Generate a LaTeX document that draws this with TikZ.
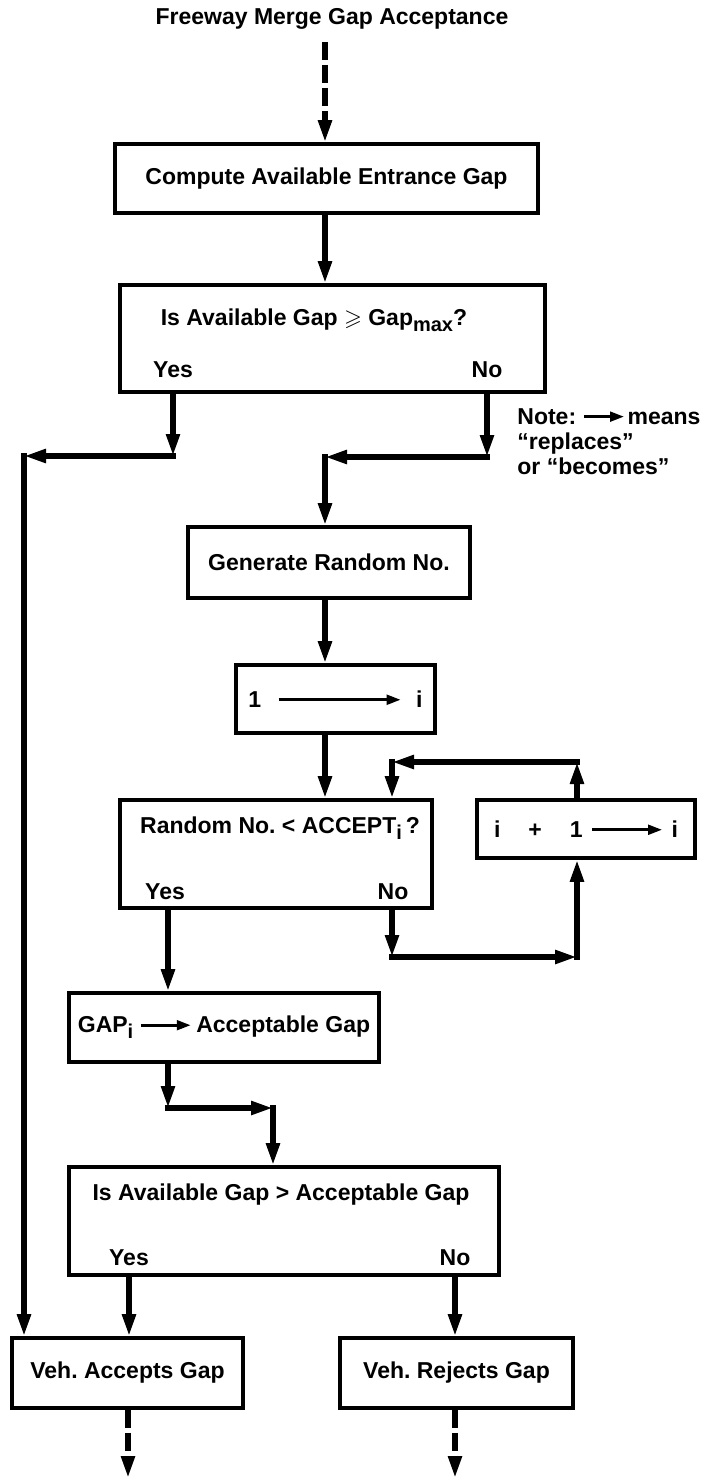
\documentclass[tikz,border=0pt]{standalone}
\usepackage{fontspec}
\setmainfont{Liberation Sans}
\usepackage{amssymb}
\usetikzlibrary{arrows.meta}

% small arrow used inside texts ("replaces" / "becomes")
\newcommand{\becomes}[1]{\tikz[baseline=-0.33em]\draw[line width=1.5pt,-{Triangle[length=7pt,width=4.8pt]}] (0pt,0pt) -- (#1,0pt);}
\newcommand{\lowsub}[1]{\raisebox{-0.5ex}{\fontsize{10}{10}\selectfont #1}}

\begin{document}
\frenchspacing
\begin{tikzpicture}[x=0.5pt,y=-0.5pt,
  font=\bfseries\fontsize{11.5}{13.5}\selectfont,
  box/.style={draw, line width=1.8pt, inner sep=0pt},
  lbl/.style={inner sep=0pt},
  conn/.style={line width=2.6pt, line cap=rect, -{Triangle[length=11pt,width=6.5pt]}},
  dashconn/.style={conn, line cap=butt, dash pattern=on 9pt off 2.5pt}]
  \useasboundingbox (0,0) rectangle (717,1478);
  % Title and first step
  \node[lbl] (title) at (332,19) {Freeway Merge Gap Acceptance};
  \node[box, minimum width=211.5pt, minimum height=34.5pt] (compute) at (326.5,178.5) {Compute Available Entrance Gap};
  % Gap max test
  \node[box, minimum width=212.5pt, minimum height=53.5pt] (chkmax) at (332.5,338.5) {};
  \node[lbl] (chkmaxq) at (314,320) {Is Available Gap \(\geqslant\) Gap\lowsub{max}?};
  \node[lbl] (chkmaxyes) at (173,370) {Yes};
  \node[lbl] (chkmaxno) at (487,370) {No};
  % Note
  \node[lbl, anchor=north west, align=left, font=\bfseries\fontsize{11.5}{12.5}\selectfont] (note) at (517,408)
    {Note: \becomes{20pt}\hspace{1pt}means\\``replaces''\\or ``becomes''};
  % Random number and counter
  \node[box, minimum width=141pt, minimum height=35.5pt] (gen) at (329,562.5) {Generate Random No.};
  \node[box, minimum width=99.5pt, minimum height=34pt] (init) at (335.5,699) {1\hspace{8pt}\becomes{61pt}\hspace{7pt}i};
  % Acceptance test and increment
  \node[box, minimum width=156pt, minimum height=54pt] (chkacc) at (276,854) {};
  \node[lbl] (chkaccq) at (280,828) {Random No. < ACCEPT\lowsub{i}\,?};
  \node[lbl] (chkaccyes) at (165,892) {Yes};
  \node[lbl] (chkaccno) at (393,892) {No};
  \node[box, minimum width=109pt, minimum height=29pt] (incr) at (586,829) {i\hspace{14pt}+\hspace{14pt}1\hspace{4pt}\becomes{35pt}\hspace{4pt}i};
  % Acceptable gap
  \node[box, minimum width=155pt, minimum height=34.5pt] (gapset) at (224,1027.5) {GAP\lowsub{i}\hspace{3pt}\becomes{25pt}\hspace{2pt}Acceptable Gap};
  % Final test
  \node[box, minimum width=215pt, minimum height=54pt] (chkgap) at (284,1221) {};
  \node[lbl] (chkgapq) at (281,1195) {Is Available Gap > Acceptable Gap};
  \node[lbl] (chkgapyes) at (129,1258) {Yes};
  \node[lbl] (chkgapno) at (455,1258) {No};
  \node[box, minimum width=115.5pt, minimum height=35pt] (accept) at (127.5,1373) {Veh. Accepts Gap};
  \node[box, minimum width=116.5pt, minimum height=35pt] (reject) at (456.5,1373) {Veh. Rejects Gap};

  % Connector columns and corners
  \coordinate (colA) at (325,0);
  \coordinate (yesX) at (173,456);
  \coordinate (leftX) at (24,456);
  \coordinate (noX) at (487,457);
  \coordinate (noY) at (325,457);
  \coordinate (yesB) at (168,0);
  \coordinate (noB) at (392,957);
  \coordinate (loopR) at (577,957);
  \coordinate (loopT) at (577,762);
  \coordinate (loopL) at (392,762);
  \coordinate (stepA) at (168,1108);
  \coordinate (stepB) at (273,1108);
  \coordinate (yesC) at (129,0);
  \coordinate (noC) at (455,0);
  \coordinate (endA) at (128,1478);
  \coordinate (endB) at (455,1478);

  % Main column
  \draw[dashconn, shorten <=6pt] (title.south -| colA) -- (compute.north -| colA);
  \draw[conn] (compute.south -| colA) -- (chkmax.north -| colA);
  % Yes: straight to acceptance
  \draw[conn] (chkmax.south -| yesX) -- (yesX);
  \draw[conn] (yesX) -- (leftX);
  \draw[conn] (leftX) -- (accept.north -| leftX);
  % No: random draw
  \draw[conn] (chkmax.south -| noX) -- (noX);
  \draw[conn] (noX) -- (noY);
  \draw[conn] (noY) -- (gen.north -| noY);
  \draw[conn] (gen.south -| colA) -- (init.north -| colA);
  \draw[conn] (init.south -| colA) -- (chkacc.north -| colA);
  % Loop over i
  \draw[conn] (chkacc.south -| noB) -- (noB);
  \draw[conn] (noB) -- (loopR);
  \draw[conn] (loopR) -- (incr.south -| loopR);
  \draw[conn] (incr.north -| loopT) -- (loopT);
  \draw[conn] (loopT) -- (loopL);
  \draw[conn] (loopL) -- (chkacc.north -| loopL);
  % Found acceptable gap
  \draw[conn] (chkacc.south -| yesB) -- (gapset.north -| yesB);
  \draw[conn] (gapset.south -| stepA) -- (stepA);
  \draw[conn] (stepA) -- (stepB);
  \draw[conn] (stepB) -- (chkgap.north -| stepB);
  \draw[conn] (chkgap.south -| yesC) -- (accept.north -| yesC);
  \draw[conn] (chkgap.south -| noC) -- (reject.north -| noC);
  % Exits
  \draw[dashconn] (accept.south -| endA) -- (endA);
  \draw[dashconn] (reject.south -| endB) -- (endB);
\end{tikzpicture}
\end{document}
